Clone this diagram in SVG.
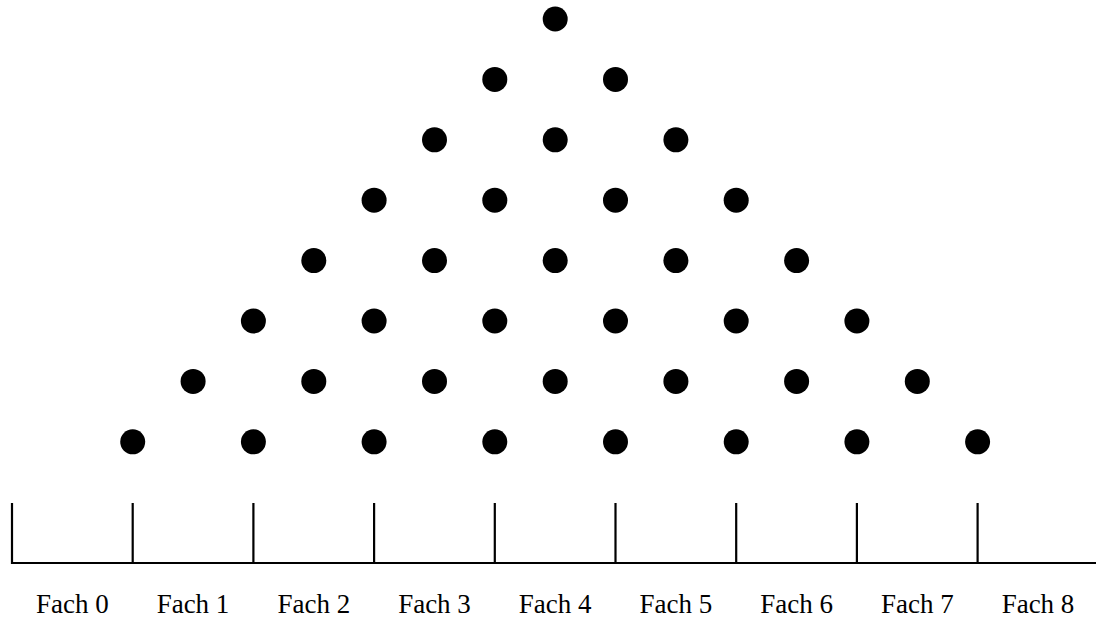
<svg xmlns="http://www.w3.org/2000/svg" width="1096" height="619" viewBox="0 0 1096 619">
<style>
.peg{fill:#000}
.ln{stroke:#000;stroke-width:2.2;fill:none;stroke-linecap:butt}
.lbl{font-family:"Liberation Serif","DejaVu Serif",serif;font-size:27px;fill:#000;text-anchor:middle}
</style>
<rect width="1096" height="619" fill="#fff"/>
<g id="pegs">
<g id="row0"><circle class="peg" cx="555.2" cy="19" r="12.5"/></g>
<g id="row1"><circle class="peg" cx="494.8" cy="79.4" r="12.5"/><circle class="peg" cx="615.5" cy="79.4" r="12.5"/></g>
<g id="row2"><circle class="peg" cx="434.5" cy="139.8" r="12.5"/><circle class="peg" cx="555.2" cy="139.8" r="12.5"/><circle class="peg" cx="675.9" cy="139.8" r="12.5"/></g>
<g id="row3"><circle class="peg" cx="374.1" cy="200.2" r="12.5"/><circle class="peg" cx="494.8" cy="200.2" r="12.5"/><circle class="peg" cx="615.5" cy="200.2" r="12.5"/><circle class="peg" cx="736.2" cy="200.2" r="12.5"/></g>
<g id="row4"><circle class="peg" cx="313.8" cy="260.6" r="12.5"/><circle class="peg" cx="434.5" cy="260.6" r="12.5"/><circle class="peg" cx="555.2" cy="260.6" r="12.5"/><circle class="peg" cx="675.9" cy="260.6" r="12.5"/><circle class="peg" cx="796.6" cy="260.6" r="12.5"/></g>
<g id="row5"><circle class="peg" cx="253.4" cy="321" r="12.5"/><circle class="peg" cx="374.1" cy="321" r="12.5"/><circle class="peg" cx="494.8" cy="321" r="12.5"/><circle class="peg" cx="615.5" cy="321" r="12.5"/><circle class="peg" cx="736.2" cy="321" r="12.5"/><circle class="peg" cx="856.9" cy="321" r="12.5"/></g>
<g id="row6"><circle class="peg" cx="193.1" cy="381.4" r="12.5"/><circle class="peg" cx="313.8" cy="381.4" r="12.5"/><circle class="peg" cx="434.5" cy="381.4" r="12.5"/><circle class="peg" cx="555.2" cy="381.4" r="12.5"/><circle class="peg" cx="675.9" cy="381.4" r="12.5"/><circle class="peg" cx="796.6" cy="381.4" r="12.5"/><circle class="peg" cx="917.3" cy="381.4" r="12.5"/></g>
<g id="row7"><circle class="peg" cx="132.7" cy="441.8" r="12.5"/><circle class="peg" cx="253.4" cy="441.8" r="12.5"/><circle class="peg" cx="374.1" cy="441.8" r="12.5"/><circle class="peg" cx="494.8" cy="441.8" r="12.5"/><circle class="peg" cx="615.5" cy="441.8" r="12.5"/><circle class="peg" cx="736.2" cy="441.8" r="12.5"/><circle class="peg" cx="856.9" cy="441.8" r="12.5"/><circle class="peg" cx="977.6" cy="441.8" r="12.5"/></g>
</g>
<g id="bins">
<path class="ln" d="M12,503V563H1096 M132.7,503V563 M253.4,503V563 M374.1,503V563 M494.8,503V563 M615.5,503V563 M736.2,503V563 M856.9,503V563 M977.6,503V563"/>
</g>
<g id="labels">
<text class="lbl" x="72.3" y="613">Fach 0</text>
<text class="lbl" x="193" y="613">Fach 1</text>
<text class="lbl" x="313.8" y="613">Fach 2</text>
<text class="lbl" x="434.5" y="613">Fach 3</text>
<text class="lbl" x="555.2" y="613">Fach 4</text>
<text class="lbl" x="675.9" y="613">Fach 5</text>
<text class="lbl" x="796.6" y="613">Fach 6</text>
<text class="lbl" x="917.3" y="613">Fach 7</text>
<text class="lbl" x="1038" y="613">Fach 8</text>
</g>
</svg>
